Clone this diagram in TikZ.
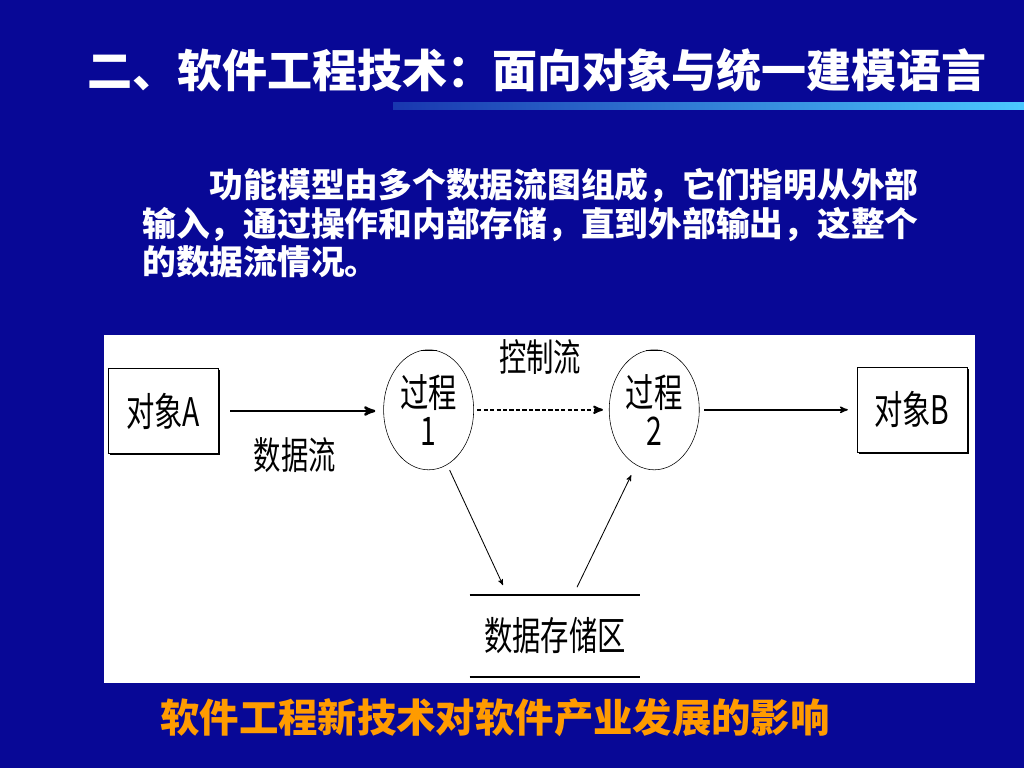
\documentclass[tikz,border=0pt]{standalone}
\usepackage{fontspec}
\usepackage{graphicx}
\usetikzlibrary{shapes.geometric, arrows, positioning, calc, shadows}
\setmainfont{Noto Sans CJK SC}
\definecolor{slideblue}{RGB}{8,8,150}
\definecolor{ruleleft}{RGB}{25,55,175}
\definecolor{ruleright}{RGB}{75,200,255}
\definecolor{hintorange}{RGB}{255,155,0}
\newcommand{\narrow}[1]{\scalebox{0.72}[1]{#1}}

\begin{document}
\begin{tikzpicture}[x=0.025cm, y=-0.025cm,
    entity/.style={rectangle, draw=black, fill=white, thin, minimum width=2.75cm, minimum height=2.125cm, font=\fontsize{28}{30}\selectfont, drop shadow={shadow xshift=1.2pt, shadow yshift=-1.2pt, fill=black, opacity=1}},
    process/.style={ellipse, draw=black, thin, minimum width=2.25cm, minimum height=3cm, inner sep=0pt, align=center, font=\fontsize{28}{27}\selectfont},
    store/.style={rectangle, minimum width=4.25cm, minimum height=2.025cm, font=\fontsize{28}{30}\selectfont},
    flowlabel/.style={font=\fontsize{27}{28}\selectfont},
    line/.style={draw, -stealth', line width=1.7pt},
    dashline/.style={draw, -stealth', line width=1.4pt, dash pattern=on 3pt off 1.6pt},
    thinline/.style={draw, -stealth', line width=0.6pt},
    storeline/.style={draw, line width=1.5pt},
    heading/.style={text=white, font=\fontsize{32}{36}\selectfont\bfseries},
    para/.style={text=white, anchor=west, inner sep=0pt, font=\fontsize{24}{27}\selectfont\bfseries}]

    % slide background
    \useasboundingbox (0,0) rectangle (1024,768);
    \fill[slideblue] (0,0) rectangle (1024,768);
    \fill[left color=ruleleft, middle color=ruleright, right color=ruleright] (393,103) rectangle (1024,110);

    \node [heading] (title) at (537,70) {二、软件工程技术：面向对象与统一建模语言};
    \node [para] (para1) at (142,185) {\hspace{2em}功能模型由多个数据流图组成，它们指明从外部};
    \node [para] (para2) at (142,225) {输入，通过操作和内部存储，直到外部输出，这整个};
    \node [para] (para3) at (142,262) {的数据流情况。};

    % diagram panel
    \fill[white] (104,335) rectangle (975,683);

    \node [entity] (objA) at (163,411) {\narrow{对象A}};
    \node [process, right=4.125cm of objA, yshift=0.03cm] (p1) {\narrow{过程}\\\narrow{1}};
    \node [process, right=3.375cm of p1] (p2) {\narrow{过程}\\\narrow{2}};
    \node [entity, right=3.925cm of p2] (objB) {\narrow{对象B}};
    \node [store] (store) at (555,636) {\narrow{数据存储区}};

    \draw [storeline] (store.north west) -- (store.north east);
    \draw [storeline] (store.south west) -- (store.south east);
    \draw [line width=1.2pt] ($(p1.north)+(-8,1)$) -- ($(p1.north)+(8,1)$);
    \draw [line width=1.2pt] ($(p2.north)+(-8,1)$) -- ($(p2.north)+(8,1)$);

    \path [line, shorten <=0.3cm, shorten >=0.2cm] (objA) -- (objA -| p1.west);
    \path [dashline, shorten <=0.08cm, shorten >=0.15cm] (p1) -- (p2);
    \path [line, line width=1pt, shorten <=0.12cm, shorten >=0.22cm] (p2) -- (objB);
    \path [thinline] ($(p1.south)+(21,0)$) -- ($(store.north)+(-52,-10)$);
    \path [thinline] ($(store.north)+(22,-8)$) -- ($(p2.south)+(-23,5)$);

    \node [flowlabel] (datalabel) at (295,455) {\narrow{数据流}};
    \node [flowlabel] (ctrllabel) at (540,357) {\narrow{控制流}};

    \node [text=hintorange, font=\fontsize{28}{32}\selectfont\bfseries] (note) at (495,718) {软件工程新技术对软件产业发展的影响};
\end{tikzpicture}
\end{document}
